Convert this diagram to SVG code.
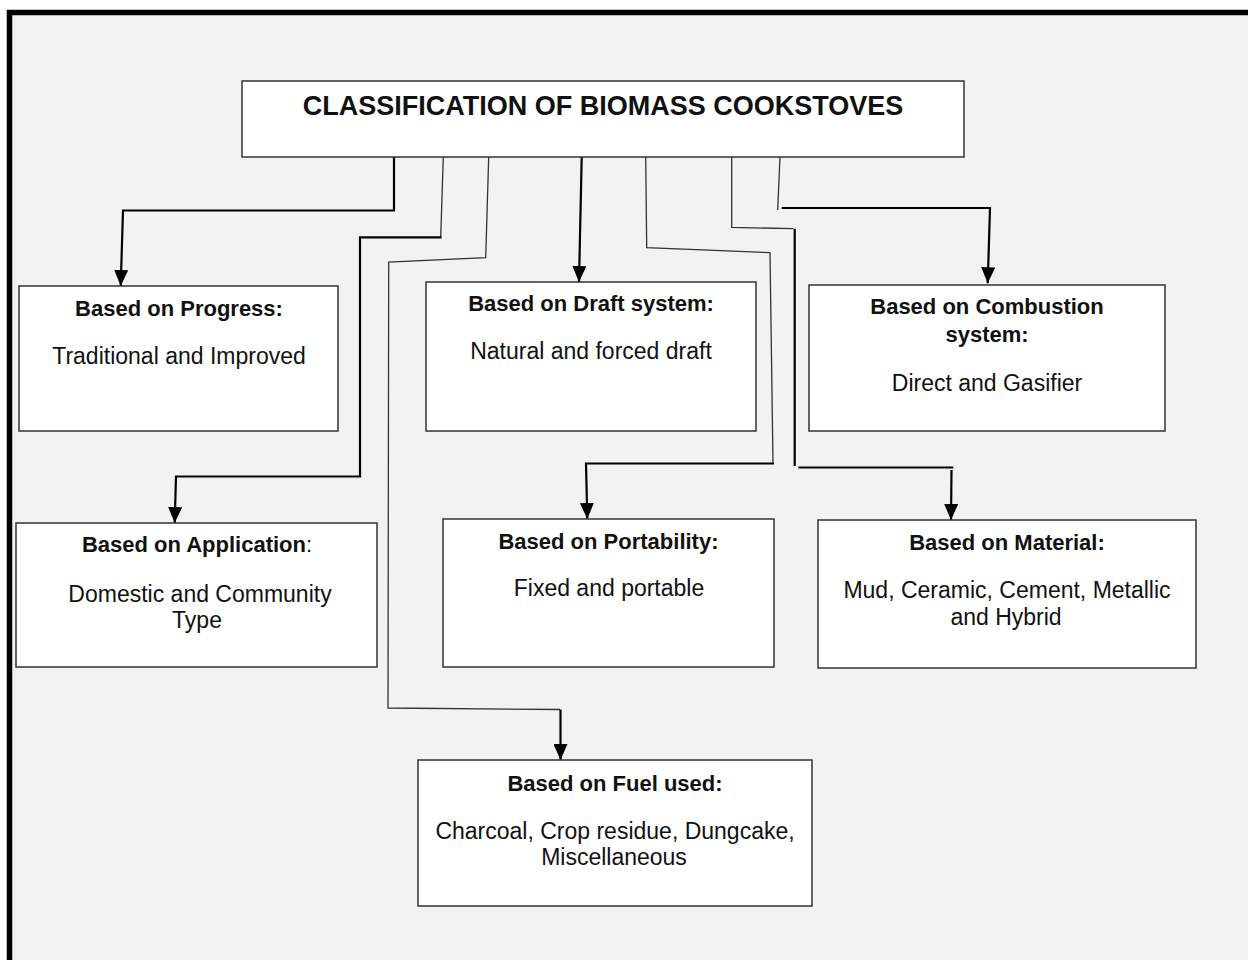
<svg xmlns="http://www.w3.org/2000/svg" width="1248" height="960" viewBox="0 0 1248 960">
<style>
.box{fill:#ffffff;stroke:#333333;stroke-width:1.5}
.t{font-family:"Liberation Sans",Arial,sans-serif;fill:#111111;text-anchor:middle}
.title{font-size:27px;font-weight:bold}
.h{font-size:22px;font-weight:bold}
.b{font-size:23px}
.thin{fill:none;stroke:#333333;stroke-width:1.3}
.thick{fill:none;stroke:#000000;stroke-width:2.2}
</style>
<defs>
<marker id="arr" markerUnits="userSpaceOnUse" viewBox="0 0 16 14" refX="16" refY="7" markerWidth="16" markerHeight="14" orient="auto">
<path d="M0,0 L16,7 L0,14 z" fill="#000000"/>
</marker>
</defs>
<rect x="0" y="0" width="1248" height="960" fill="#ffffff"/>
<rect x="9.5" y="12.5" width="1260" height="980" fill="#f2f2f2" stroke="#000000" stroke-width="5.5"/>

<g id="connectors">
<path class="thick" d="M394,157 L394,210.5 L123,210.5 L120.7,286" marker-end="url(#arr)"/>
<path class="thin" d="M443.3,157 L440.7,237.3"/>
<path class="thick" d="M441.5,237.3 L360,237.3 L360,476.5 L176,476.5 L174.7,523" marker-end="url(#arr)"/>
<path class="thin" d="M488.7,157 L485.7,257.7 L388.7,262 L388,708 L560,709.5"/>
<path class="thick" d="M560.5,709.5 L560.5,760" marker-end="url(#arr)"/>
<path class="thick" d="M581.7,157 L579,282" marker-end="url(#arr)"/>
<path class="thin" d="M645.7,157 L646.7,247.7 L770,252.7 L773,463"/>
<path class="thick" d="M774,463.5 L586,463.5 L587.3,519" marker-end="url(#arr)"/>
<path class="thin" d="M731.7,157 L731.7,227.3 L793.3,228.7"/>
<path class="thick" d="M794.7,228.7 L794.7,466"/>
<path class="thick" d="M798.3,467.5 L953.3,467.5"/>
<path class="thick" d="M951.5,470 L951,520" marker-end="url(#arr)"/>
<path class="thin" d="M780,157 L777.7,210"/>
<path class="thick" d="M781.7,208 L990,208 L987.7,283.3" marker-end="url(#arr)"/>
</g>

<g id="title">
<rect class="box" x="242" y="81" width="722" height="76"/>
<text class="t title" x="603" y="115">CLASSIFICATION OF BIOMASS COOKSTOVES</text>
</g>

<g id="progress">
<rect class="box" x="19" y="286" width="319" height="145"/>
<text class="t h" x="179" y="316">Based on Progress:</text>
<text class="t b" x="179" y="364">Traditional and Improved</text>
</g>

<g id="draft">
<rect class="box" x="426" y="282" width="330" height="149"/>
<text class="t h" x="591" y="311">Based on Draft system:</text>
<text class="t b" x="591" y="359">Natural and forced draft</text>
</g>

<g id="combustion">
<rect class="box" x="809" y="285" width="356" height="146"/>
<text class="t h" x="987" y="314">Based on Combustion</text>
<text class="t h" x="987" y="342">system:</text>
<text class="t b" x="987" y="391">Direct and Gasifier</text>
</g>

<g id="application">
<rect class="box" x="16" y="523" width="361" height="144"/>
<text class="t h" x="197" y="552">Based on Application<tspan font-weight="normal">:</tspan></text>
<text class="t b" x="200" y="602">Domestic and Community</text>
<text class="t b" x="197" y="628">Type</text>
</g>

<g id="portability">
<rect class="box" x="443" y="519" width="331" height="148"/>
<text class="t h" x="608.5" y="549">Based on Portability:</text>
<text class="t b" x="609" y="596">Fixed and portable</text>
</g>

<g id="material">
<rect class="box" x="818" y="520" width="378" height="148"/>
<text class="t h" x="1007" y="550">Based on Material:</text>
<text class="t b" x="1007" y="598">Mud, Ceramic, Cement, Metallic</text>
<text class="t b" x="1006" y="625">and Hybrid</text>
</g>

<g id="fuel">
<rect class="box" x="418" y="760" width="394" height="146"/>
<text class="t h" x="615" y="791">Based on Fuel used:</text>
<text class="t b" x="615" y="839">Charcoal, Crop residue, Dungcake,</text>
<text class="t b" x="614" y="865">Miscellaneous</text>
</g>
</svg>
